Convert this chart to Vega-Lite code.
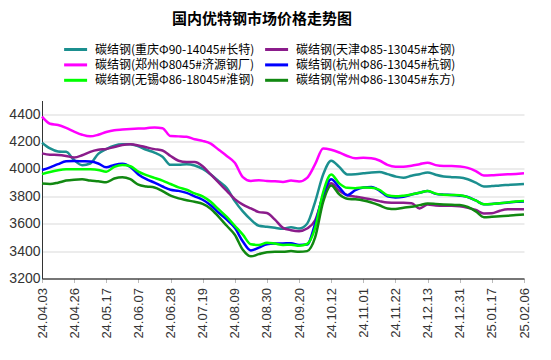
{
  "$schema": "https://vega.github.io/schema/vega-lite/v6.json",
  "width": 482,
  "height": 178,
  "autosize": {"type": "none"},
  "padding": {"left": 42, "top": 100.5, "right": 27, "bottom": 81.5},
  "background": "white",
  "title": {
    "text": "国内优特钢市场价格走势图",
    "font": "Noto Sans CJK SC",
    "fontSize": 15,
    "fontWeight": "bold",
    "color": "#000000",
    "anchor": "middle",
    "frame": "group",
    "dx": -21,
    "baseline": "alphabetic",
    "offset": 5
  },
  "datasets": {
    "names": [
      {"k": "重庆", "name": "碳结钢(重庆Φ90-14045#长特)"},
      {"k": "天津", "name": "碳结钢(天津Φ85-13045#本钢)"},
      {"k": "郑州", "name": "碳结钢(郑州Φ8045#济源钢厂)"},
      {"k": "杭州", "name": "碳结钢(杭州Φ86-13045#杭钢)"},
      {"k": "无锡", "name": "碳结钢(无锡Φ86-18045#淮钢)"},
      {"k": "常州", "name": "碳结钢(常州Φ86-13045#东方)"}
    ],
    "prices": [
      {"d": "24.04.03", "重庆": 4192, "天津": 4114, "郑州": 4382, "杭州": 3992, "无锡": 3962, "常州": 3893},
      {"d": "24.04.09", "重庆": 4150, "天津": 4104, "郑州": 4330, "杭州": 4012, "无锡": 3978, "常州": 3890},
      {"d": "24.04.15", "重庆": 4128, "天津": 4102, "郑州": 4321, "杭州": 4035, "无锡": 3990, "常州": 3900},
      {"d": "24.04.19", "重庆": 4125, "天津": 4095, "郑州": 4300, "杭州": 4056, "无锡": 3997, "常州": 3915},
      {"d": "24.04.26", "重庆": 4065, "天津": 4084, "郑州": 4273, "杭州": 4058, "无锡": 3998, "常州": 3922},
      {"d": "24.04.30", "重庆": 4028, "天津": 4100, "郑州": 4250, "杭州": 4056, "无锡": 3998, "常州": 3925},
      {"d": "24.05.08", "重庆": 4040, "天津": 4125, "郑州": 4238, "杭州": 4054, "无锡": 3997, "常州": 3915},
      {"d": "24.05.13", "重庆": 4110, "天津": 4140, "郑州": 4250, "杭州": 4040, "无锡": 3993, "常州": 3910},
      {"d": "24.05.17", "重庆": 4145, "天津": 4146, "郑州": 4270, "杭州": 4012, "无锡": 3980, "常州": 3903},
      {"d": "24.05.22", "重庆": 4170, "天津": 4160, "郑州": 4283, "杭州": 4030, "无锡": 4015, "常州": 3930},
      {"d": "24.05.27", "重庆": 4180, "天津": 4175, "郑州": 4288, "杭州": 4038, "无锡": 4029, "常州": 3940},
      {"d": "24.06.03", "重庆": 4180, "天津": 4180, "郑州": 4292, "杭州": 4015, "无锡": 4020, "常州": 3925},
      {"d": "24.06.07", "重庆": 4165, "天津": 4172, "郑州": 4295, "杭州": 3960, "无锡": 3980, "常州": 3885},
      {"d": "24.06.14", "重庆": 4140, "天津": 4158, "郑州": 4298, "杭州": 3925, "无锡": 3955, "常州": 3872},
      {"d": "24.06.19", "重庆": 4120, "天津": 4145, "郑州": 4303, "杭州": 3900, "无锡": 3935, "常州": 3865},
      {"d": "24.06.24", "重庆": 4090, "天津": 4135, "郑州": 4298, "杭州": 3872, "无锡": 3915, "常州": 3838},
      {"d": "24.06.28", "重庆": 4030, "天津": 4095, "郑州": 4240, "杭州": 3848, "无锡": 3890, "常州": 3805},
      {"d": "24.07.04", "重庆": 4030, "天津": 4060, "郑州": 4238, "杭州": 3840, "无锡": 3865, "常州": 3785},
      {"d": "24.07.09", "重庆": 4035, "天津": 4050, "郑州": 4235, "杭州": 3825, "无锡": 3848, "常州": 3772},
      {"d": "24.07.15", "重庆": 4025, "天津": 4050, "郑州": 4217, "杭州": 3800, "无锡": 3822, "常州": 3760},
      {"d": "24.07.19", "重庆": 4000, "天津": 4020, "郑州": 4205, "杭州": 3775, "无锡": 3800, "常州": 3745},
      {"d": "24.07.25", "重庆": 3960, "天津": 3960, "郑州": 4185, "杭州": 3735, "无锡": 3760, "常州": 3710},
      {"d": "24.07.30", "重庆": 3910, "天津": 3900, "郑州": 4140, "杭州": 3680, "无锡": 3705, "常州": 3650},
      {"d": "24.08.05", "重庆": 3860, "天津": 3840, "郑州": 4095, "杭州": 3630, "无锡": 3650, "常州": 3585},
      {"d": "24.08.09", "重庆": 3765, "天津": 3780, "郑州": 4045, "杭州": 3570, "无锡": 3585, "常州": 3520},
      {"d": "24.08.15", "重庆": 3690, "天津": 3740, "郑州": 3940, "杭州": 3470, "无锡": 3520, "常州": 3410},
      {"d": "24.08.20", "重庆": 3630, "天津": 3712, "郑州": 3912, "杭州": 3405, "无锡": 3450, "常州": 3362},
      {"d": "24.08.26", "重庆": 3585, "天津": 3685, "郑州": 3918, "杭州": 3425, "无锡": 3445, "常州": 3378},
      {"d": "24.08.30", "重庆": 3578, "天津": 3678, "郑州": 3912, "杭州": 3450, "无锡": 3462, "常州": 3392},
      {"d": "24.09.05", "重庆": 3570, "天津": 3630, "郑州": 3910, "杭州": 3455, "无锡": 3455, "常州": 3395},
      {"d": "24.09.10", "重庆": 3563, "天津": 3570, "郑州": 3905, "杭州": 3456, "无锡": 3445, "常州": 3395},
      {"d": "24.09.13", "重庆": 3575, "天津": 3553, "郑州": 3915, "杭州": 3458, "无锡": 3447, "常州": 3400},
      {"d": "24.09.20", "重庆": 3565, "天津": 3546, "郑州": 3908, "杭州": 3445, "无锡": 3440, "常州": 3395},
      {"d": "24.09.25", "重庆": 3600, "天津": 3565, "郑州": 3935, "杭州": 3448, "无锡": 3452, "常州": 3400},
      {"d": "24.09.29", "重庆": 3760, "天津": 3625, "郑州": 4035, "杭州": 3600, "无锡": 3570, "常州": 3500},
      {"d": "24.10.09", "重庆": 3960, "天津": 3800, "郑州": 4150, "杭州": 3810, "无锡": 3830, "常州": 3760},
      {"d": "24.10.12", "重庆": 4060, "天津": 3895, "郑州": 4140, "杭州": 3925, "无锡": 3960, "常州": 3880},
      {"d": "24.10.17", "重庆": 4015, "天津": 3840, "郑州": 4120, "杭州": 3865, "无锡": 3895, "常州": 3815},
      {"d": "24.10.22", "重庆": 3960, "天津": 3808, "郑州": 4095, "杭州": 3808, "无锡": 3862, "常州": 3782},
      {"d": "24.10.28", "重庆": 3962, "天津": 3798, "郑州": 4078, "杭州": 3845, "无锡": 3860, "常州": 3778},
      {"d": "24.11.01", "重庆": 3968, "天津": 3788, "郑州": 4082, "杭州": 3865, "无锡": 3864, "常州": 3770},
      {"d": "24.11.07", "重庆": 3975, "天津": 3778, "郑州": 4078, "杭州": 3868, "无锡": 3862, "常州": 3755},
      {"d": "24.11.12", "重庆": 3978, "天津": 3765, "郑州": 4062, "杭州": 3842, "无锡": 3848, "常州": 3735},
      {"d": "24.11.18", "重庆": 3962, "天津": 3755, "郑州": 4030, "杭州": 3800, "无锡": 3808, "常州": 3712},
      {"d": "24.11.22", "重庆": 3945, "天津": 3753, "郑州": 4017, "杭州": 3792, "无锡": 3800, "常州": 3708},
      {"d": "24.11.28", "重庆": 3936, "天津": 3753, "郑州": 4017, "杭州": 3797, "无锡": 3805, "常州": 3717},
      {"d": "24.12.03", "重庆": 3951, "天津": 3750, "郑州": 4024, "杭州": 3814, "无锡": 3814, "常州": 3724},
      {"d": "24.12.09", "重庆": 3962, "天津": 3712, "郑州": 4035, "杭州": 3826, "无锡": 3826, "常州": 3736},
      {"d": "24.12.13", "重庆": 3975, "天津": 3740, "郑州": 4046, "杭州": 3839, "无锡": 3839, "常州": 3748},
      {"d": "24.12.18", "重庆": 3958, "天津": 3733, "郑州": 4028, "杭州": 3818, "无锡": 3820, "常州": 3745},
      {"d": "24.12.23", "重庆": 3945, "天津": 3731, "郑州": 4022, "杭州": 3812, "无锡": 3812, "常州": 3741},
      {"d": "24.12.27", "重庆": 3940, "天津": 3731, "郑州": 4022, "杭州": 3810, "无锡": 3810, "常州": 3738},
      {"d": "24.12.31", "重庆": 3938, "天津": 3728, "郑州": 4018, "杭州": 3805, "无锡": 3808, "常州": 3736},
      {"d": "25.01.06", "重庆": 3925, "天津": 3717, "郑州": 4008, "杭州": 3795, "无锡": 3794, "常州": 3722},
      {"d": "25.01.09", "重庆": 3900, "天津": 3700, "郑州": 3985, "杭州": 3770, "无锡": 3770, "常州": 3690},
      {"d": "25.01.14", "重庆": 3872, "天津": 3675, "郑州": 3952, "杭州": 3742, "无锡": 3742, "常州": 3648},
      {"d": "25.01.17", "重庆": 3875, "天津": 3676, "郑州": 3954, "杭州": 3744, "无锡": 3744, "常州": 3651},
      {"d": "25.01.21", "重庆": 3880, "天津": 3695, "郑州": 3958, "杭州": 3750, "无锡": 3750, "常州": 3655},
      {"d": "25.01.24", "重庆": 3883, "天津": 3705, "郑州": 3961, "杭州": 3755, "无锡": 3756, "常州": 3658},
      {"d": "25.01.27", "重庆": 3886, "天津": 3705, "郑州": 3964, "杭州": 3760, "无锡": 3762, "常州": 3663},
      {"d": "25.02.06", "重庆": 3890, "天津": 3705, "郑州": 3968, "杭州": 3762, "无锡": 3766, "常州": 3668}
    ]
  },
  "data": {"name": "prices"},
  "transform": [
    {"fold": ["重庆", "天津", "郑州", "杭州", "无锡", "常州"], "as": ["k", "price"]},
    {"lookup": "k", "from": {"data": {"name": "names"}, "key": "k", "fields": ["name"]}}
  ],
  "mark": {"type": "line", "interpolate": "monotone", "strokeWidth": 2.5},
  "encoding": {
    "x": {
      "field": "d",
      "type": "ordinal",
      "sort": null,
      "scale": {"type": "point", "padding": 0},
      "axis": {
        "title": null,
        "values": ["24.04.03", "24.04.26", "24.05.17", "24.06.07", "24.06.28", "24.07.19", "24.08.09", "24.08.30", "24.09.20", "24.10.12", "24.11.01", "24.11.22", "24.12.13", "24.12.31", "25.01.17", "25.02.06"],
        "labelAngle": -90,
        "labelAlign": "right",
        "labelBaseline": "middle",
        "labelFont": "Liberation Sans",
        "labelFontSize": 13,
        "labelColor": "#333333",
        "labelPadding": 5,
        "tickSize": 4,
        "tickColor": "#bbbbbb",
        "domainColor": "#000000",
        "domainWidth": 1,
        "grid": false,
        "labelOverlap": false
      }
    },
    "y": {
      "field": "price",
      "type": "quantitative",
      "scale": {"domain": [3200, 4500], "nice": false, "zero": false},
      "axis": {
        "title": null,
        "values": [3200, 3400, 3600, 3800, 4000, 4200, 4400],
        "format": "d",
        "grid": true,
        "gridColor": "#d9d9d9",
        "gridWidth": 1.2,
        "ticks": false,
        "labelPadding": 2,
        "labelFont": "Liberation Sans",
        "labelFontSize": 14,
        "labelColor": "#333333",
        "domainColor": "#333333",
        "domainWidth": 1
      }
    },
    "color": {
      "field": "name",
      "type": "nominal",
      "scale": {
        "domain": ["碳结钢(重庆Φ90-14045#长特)", "碳结钢(郑州Φ8045#济源钢厂)", "碳结钢(无锡Φ86-18045#淮钢)", "碳结钢(天津Φ85-13045#本钢)", "碳结钢(杭州Φ86-13045#杭钢)", "碳结钢(常州Φ86-13045#东方)"],
        "range": ["#1b8f8f", "#ff00ff", "#00ff00", "#8b1c8b", "#0000ff", "#118811"]
      },
      "legend": {
        "title": null,
        "orient": "none",
        "legendX": 27.6,
        "legendY": -57,
        "columns": 2,
        "columnPadding": 4,
        "rowPadding": 3.4,
        "padding": 0,
        "symbolType": "M-4,0L4,0",
        "symbolSize": 33,
        "symbolStrokeWidth": 3,
        "labelOffset": 13.4,
        "labelFont": "Noto Sans CJK SC",
        "labelFontSize": 12,
        "labelColor": "#000000",
        "labelLimit": 300
      }
    }
  },
  "config": {"view": {"stroke": null}}
}
